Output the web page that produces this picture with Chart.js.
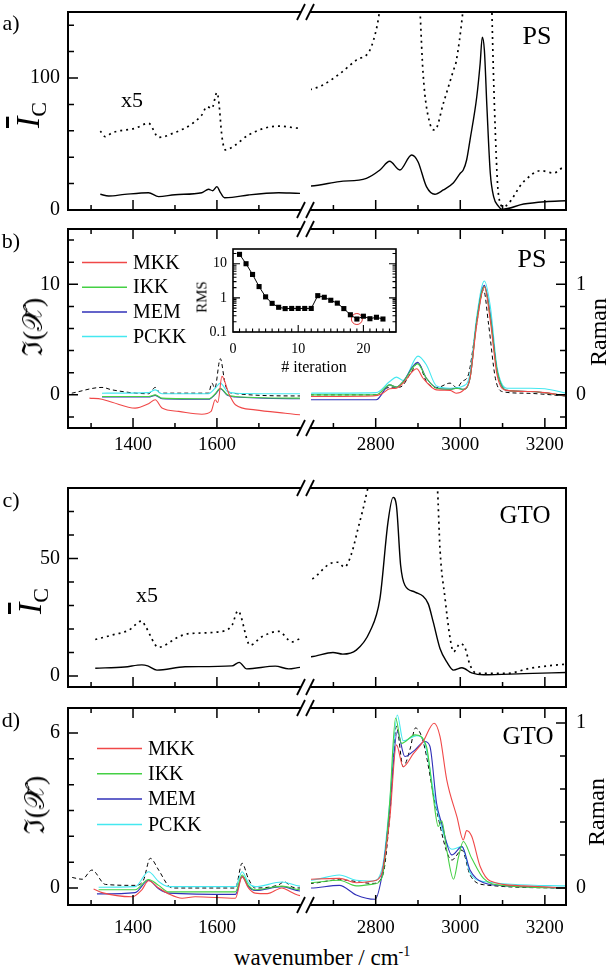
<!DOCTYPE html>
<html>
<head>
<meta charset="utf-8">
<script src="https://cdn.jsdelivr.net/npm/chart.js@4.4.1/dist/chart.umd.min.js"></script>
<style>
  body { margin: 0; background: #fff; }
  #wrap { position: relative; width: 606px; height: 971px; overflow: hidden; background: #fff; }
  #wrap canvas { position: absolute; }
  .lbl { position: absolute; font-family: "Liberation Serif", "DejaVu Serif", serif; color: #000;
         white-space: nowrap; transform: translate(-50%, -50%); line-height: 1; }
  .rot { transform: translate(-50%, -50%) rotate(-90deg); }
</style>
</head>
<body>
<div id="wrap"></div>
<script>
// axis ranges and tick labels (wavenumber, cm-1)
const xRangeLeft = [1245, 1798];
const xRangeRight = [2647, 3250];
const xMajorLeft = [1400, 1600];
const xMinorLeft = [1300, 1500, 1700];
const xMajorRight = [2800, 3000, 3200];
const xMinorRight = [2700, 2900, 3100];

// a) PS, mean Ic and the x5 copy
const psIc = [[1322,11.9],[1342,10.6],[1380,11.8],[1437,13.1],[1461,10.1],[1500,11.6],[1564,13.1],[1580,15.7],[1590,14.6],[1600,17.7],[1607,14],[1618,9.3],[1636,9.6],[1675,11.4],[1747,13.1],[1800,12.6],
  [2647,18.2],[2714,21.5],[2778,24],[2810,30.3],[2833,36.9],[2857,30.3],[2885,41.7],[2900,36.6],[2920,17.7],[2940,11.9],[2960,15.2],[2984,20.7],[3000,27.8],[3007,30.3],[3015,37.9],[3023,53],[3039,85.8],[3047,111],[3052,131],[3057,121],[3063,78],[3071,27.8],[3079,10],[3090,3],[3099,0.5],[3150,4.5],[3201,6.3],[3250,7]];
const psIcX5 = [[1322,59.8],[1334,55.5],[1350,58.5],[1405,61.9],[1437,65.7],[1461,55],[1485,56.8],[1564,72],[1576,78.3],[1588,77],[1600,88.9],[1604,83.3],[1612,55.5],[1620,45.5],[1643,49],[1675,56.8],[1747,63.6],[1800,61.9],
  [2647,91.4],[2675,94.7],[2714,103],[2754,113.6],[2786,121],[2803,139],[2810,152],[2833,185],[2857,165],[2885,208],[2900,183],[2905,150],[2912,103.5],[2928,65.7],[2940,60.6],[2960,80.8],[2984,106],[2990,112],[3006,150],[3020,200],[3050,600],[3075,148],[3083,58],[3090,12.6],[3102,2.5],[3150,21.5],[3190,29.8],[3221,28],[3244,32],[3250,31]];

// b) PS, Im(chi) by method, Raman (right axis)
const psMkk = [[1296,-0.3],[1326,-0.4],[1350,-0.67],[1405,-1.2],[1437,-0.8],[1453,-0.45],[1469,-1.2],[1509,-1.5],[1564,-1.75],[1586,-1.5],[1596,-0.45],[1602,-0.7],[1612,1.67],[1628,0.15],[1644,-0.9],[1691,-1.36],[1763,-1.66],[1800,-1.8],
  [2647,-0.15],[2794,-0.1],[2815,0.1],[2833,0.55],[2849,0.6],[2865,1.06],[2897,2.36],[2912,1.5],[2944,0.45],[2976,0.4],[2990,0.15],[3007,0.4],[3023,1.5],[3039,6.4],[3057,9.75],[3071,6.7],[3087,1.8],[3110,0.4],[3166,0.3],[3200,0.2],[3250,-0.1]];
const psIkk = [[1326,-0.15],[1437,-0.15],[1453,0],[1469,-0.3],[1580,-0.36],[1596,0.1],[1608,0.6],[1625,0],[1644,-0.15],[1800,-0.3],
  [2647,0],[2801,0],[2833,0.9],[2849,0.7],[2865,1.2],[2899,2.8],[2920,1.5],[2944,0.6],[2976,0.5],[2992,0.6],[3007,0.5],[3023,1.5],[3039,6.7],[3057,9.8],[3071,7],[3087,2.2],[3110,0.4],[3166,0.3],[3250,-0.1]];
const psMem = [[1326,-0.2],[1437,-0.2],[1453,-0.05],[1469,-0.35],[1580,-0.4],[1596,0.05],[1608,0.55],[1625,-0.05],[1644,-0.2],[1800,-0.35],
  [2647,-0.45],[2801,-0.45],[2833,0.9],[2849,0.7],[2865,1.2],[2899,2.94],[2920,1.5],[2944,0.64],[2976,0.5],[2992,0.6],[3007,0.5],[3023,1.5],[3039,6.7],[3057,9.9],[3071,7.2],[3087,2.2],[3110,0.4],[3166,0.3],[3250,-0.1]];
const psPckk = [[1326,0.15],[1437,0.2],[1453,0.45],[1469,0.1],[1580,0.1],[1596,0.6],[1608,1.06],[1625,0.3],[1644,0.15],[1800,0.1],
  [2647,0.15],[2801,0.2],[2833,1.2],[2849,1.6],[2865,1.3],[2900,3.5],[2920,2.7],[2944,0.8],[2976,0.6],[3007,0.8],[3023,1.9],[3039,7.1],[3057,10.3],[3071,8.0],[3087,2.5],[3110,0.6],[3166,0.6],[3200,0.55],[3250,0.15]];
const psRaman = [[1254,0.015],[1326,0.067],[1350,0.045],[1437,0.01],[1453,0.067],[1465,0.015],[1580,0.015],[1588,0.106],[1595,0.06],[1608,0.327],[1620,0.09],[1636,0.015],[1800,-0.01],
  [2647,0],[2801,0],[2825,0.06],[2841,0.07],[2857,0.07],[2885,0.21],[2900,0.29],[2920,0.12],[2944,0.064],[2976,0.106],[2992,0.064],[3004,0.12],[3019,0.18],[3035,0.545],[3055,0.95],[3067,0.636],[3083,0.15],[3099,0.03],[3150,0.015],[3250,-0.01]];

// c) GTO, mean Ic and the x5 copy
const gtoIc = [[1310,3.3],[1380,3.8],[1421,4.7],[1435,4.3],[1457,2.5],[1524,3.9],[1636,4.3],[1653,5.8],[1671,3],[1739,4.2],[1771,3],[1800,3.7],
  [2647,8.2],[2699,10],[2722,9.3],[2754,11],[2786,18.8],[2810,32.9],[2829,65.4],[2841,76],[2849,72.5],[2859,47],[2869,38.6],[2893,35.7],[2924,30.8],[2936,23],[2952,11.7],[2968,6],[2984,2.5],[3004,3.5],[3027,1.3],[3055,0.5],[3150,1.0],[3250,1.5]];
const gtoIcX5 = [[1310,15.5],[1350,17.4],[1390,19.5],[1421,23.4],[1430,21],[1461,12.2],[1509,16.7],[1533,18],[1604,18.8],[1636,21.6],[1650,27.7],[1679,13.1],[1707,16.7],[1747,19],[1779,14.5],[1800,16],
  [2647,41],[2691,47.7],[2710,48.4],[2726,46.3],[2742,51.6],[2758,62.6],[2778,77.4],[2790,90],[2850,300],[2940,90],[2946,80],[2952,54],[2964,33],[2976,16],[2984,10.3],[3000,13.8],[3011,12],[3023,4.7],[3039,1.1],[3110,1.1],[3166,3.3],[3229,4.7],[3250,5]];

// d) GTO, Im(chi) by method, Raman (right axis)
const gtoMkk = [[1306,-0.04],[1326,-0.18],[1398,-0.34],[1421,-0.07],[1437,0.28],[1461,0],[1485,-0.23],[1517,-0.4],[1548,-0.34],[1644,-0.4],[1660,0.44],[1675,0],[1691,-0.2],[1720,-0.22],[1755,0],[1779,-0.18],[1800,-0.3],
  [2647,0.34],[2714,0.37],[2754,0.2],[2794,0.27],[2813,0.5],[2833,2.64],[2849,5.54],[2865,4.7],[2889,5.2],[2912,5.67],[2938,6.38],[2952,5.87],[2968,4.19],[2992,2.76],[3007,1.86],[3015,2.22],[3027,2.0],[3047,0.83],[3071,0.27],[3150,0.08],[3250,0]];
const gtoIkk = [[1318,-0.07],[1405,-0.07],[1437,0.33],[1461,0.1],[1485,-0.15],[1644,-0.15],[1660,0.5],[1675,0.1],[1691,-0.07],[1755,0.07],[1800,-0.07],
  [2647,0.2],[2714,0.3],[2754,0.08],[2794,0.15],[2815,0.4],[2833,3.28],[2847,6.58],[2861,5.6],[2893,5.93],[2920,5.48],[2936,3.54],[2948,2.38],[2956,2.6],[2968,1.47],[2984,0.34],[2996,1.21],[3007,1.8],[3027,1.15],[3055,0.37],[3099,0.1],[3250,0]];
const gtoMem = [[1314,-0.23],[1405,-0.18],[1437,0.3],[1461,-0.03],[1485,-0.2],[1644,-0.25],[1660,0.44],[1675,0.05],[1691,-0.1],[1755,0.05],[1800,-0.12],
  [2647,0],[2714,0.1],[2754,-0.27],[2798,-0.44],[2817,0.7],[2833,3.0],[2851,6.06],[2869,5.09],[2893,5.35],[2916,5.67],[2928,5.5],[2944,3.28],[2956,2.5],[2980,1.28],[3004,1.6],[3023,0.7],[3055,0.2],[3110,0.08],[3250,0]];
const gtoPckk = [[1318,0.03],[1405,0.05],[1437,0.63],[1461,0.25],[1485,0.05],[1644,0.05],[1660,0.63],[1675,0.2],[1691,0.05],[1755,0.23],[1800,0.07],
  [2647,0.3],[2714,0.5],[2754,0.3],[2794,0.27],[2817,0.9],[2833,3.3],[2851,6.7],[2865,5.7],[2897,5.9],[2916,5.6],[2944,3.1],[2980,1.5],[3004,1.6],[3023,0.6],[3055,0.25],[3250,0.08]];
const gtoRaman = [[1255,0.064],[1279,0.053],[1302,0.109],[1334,0.022],[1405,0.016],[1425,0.048],[1441,0.18],[1461,0.109],[1485,0.012],[1500,0],[1644,0],[1660,0.15],[1675,0.056],[1691,0],[1747,0.019],[1760,0.038],[1779,0.006],[1800,0],
  [2647,0.028],[2714,0.05],[2794,0.028],[2817,0.08],[2833,0.43],[2849,0.98],[2865,0.735],[2881,0.84],[2894,0.97],[2912,0.89],[2944,0.47],[2980,0.17],[3004,0.23],[3023,0.08],[3055,0.02],[3250,0]];

// inset: RMS vs iteration
const rmsIter = [1,2,3,4,5,6,7,8,9,10,11,12,13,14,15,16,17,18,19,20,21,22,23];
const rmsValues = [18.8,10,4.85,2.14,1.07,0.69,0.53,0.485,0.49,0.49,0.49,0.49,1.16,1.04,0.85,0.70,0.485,0.32,0.24,0.29,0.245,0.27,0.24];
const bestIter = 19;
const insetXTicks = [0, 10, 20];
const insetYTicks = [0.1, 1, 10];

const RED = '#f04848', GREEN = '#44d044', BLUE = '#3030b8', CYAN = '#44e8f0';
const SERIF = '"Liberation Serif", "DejaVu Serif", serif';
const wrap = document.getElementById('wrap');

function addCanvas(left, top, w, h) {
  const c = document.createElement('canvas');
  c.width = w; c.height = h;
  c.style.left = left + 'px'; c.style.top = top + 'px';
  c.style.width = w + 'px'; c.style.height = h + 'px';
  wrap.appendChild(c);
  return c;
}

function label(html, x, y, size, cls) {
  const d = document.createElement('div');
  d.className = 'lbl' + (cls ? ' ' + cls : '');
  d.style.left = x + 'px'; d.style.top = y + 'px'; d.style.fontSize = size + 'px';
  d.innerHTML = html;
  wrap.appendChild(d);
}

// fixed axis sizes, and no label overhang padding, so all plot areas line up
const fixW = w => s => { s.width = w; s.paddingTop = 0; s.paddingBottom = 0; };
const fixH = h => s => { s.height = h; s.paddingLeft = 0; s.paddingRight = 0; };

// frame, inward ticks, axis break marks and the legend (settings kept in a closure)
function makeFrame(cfg) {
  return {
    id: 'frame',
    afterDraw(chart) {
      const ctx = chart.ctx, a = chart.chartArea;
      const sx = chart.scales.x, sy = chart.scales.y, sy2 = chart.scales.y2;
      const seg = (x1, y1, x2, y2) => { ctx.moveTo(x1, y1); ctx.lineTo(x2, y2); };
      ctx.save();
      ctx.setLineDash([]);
      ctx.strokeStyle = '#000';
      ctx.lineWidth = 1.5;
      ctx.lineCap = 'butt';
      ctx.beginPath();
      cfg.xMajor.forEach(v => {
        const p = sx.getPixelForValue(v);
        seg(p, a.bottom, p, a.bottom - 10);
        if (cfg.tickTop) seg(p, a.top, p, a.top + 10);
      });
      cfg.xMinor.forEach(v => {
        const p = sx.getPixelForValue(v);
        seg(p, a.bottom, p, a.bottom - 5);
        if (cfg.tickTop) seg(p, a.top, p, a.top + 5);
      });
      if (cfg.side === 'left') {
        cfg.yMajor.forEach(v => { const p = sy.getPixelForValue(v); seg(a.left, p, a.left + 10, p); });
        cfg.yMinor.forEach(v => { const p = sy.getPixelForValue(v); seg(a.left, p, a.left + 6, p); });
      } else if (sy2 && cfg.y2Major) {
        cfg.y2Major.forEach(v => { const p = sy2.getPixelForValue(v); seg(a.right, p, a.right - 10, p); });
        cfg.y2Minor.forEach(v => { const p = sy2.getPixelForValue(v); seg(a.right, p, a.right - 6, p); });
      }
      ctx.stroke();

      ctx.lineWidth = 2;
      ctx.lineCap = 'square';
      ctx.beginPath();
      seg(a.left, a.top, a.right, a.top);
      seg(a.left, a.bottom, a.right, a.bottom);
      if (cfg.side === 'left') seg(a.left, a.top, a.left, a.bottom);
      else seg(a.right, a.top, a.right, a.bottom);
      ctx.stroke();

      if (cfg.side === 'left') {
        ctx.lineCap = 'butt';
        ctx.lineWidth = 1.8;
        ctx.beginPath();
        [a.top, a.bottom].forEach(y => {
          seg(a.right - 3, y + 8, a.right + 5, y - 8);
          seg(a.right + 6, y + 8, a.right + 14, y - 8);
        });
        ctx.stroke();
      }

      if (cfg.legend) {
        const L = cfg.legend;
        chart.data.datasets.filter(d => d.showInLegend).forEach((d, i) => {
          const y = L.y + i * L.dy;
          ctx.strokeStyle = d.borderColor;
          ctx.lineWidth = 1.5;
          ctx.beginPath(); seg(L.x, y, L.x + 45, y); ctx.stroke();
          ctx.fillStyle = '#000';
          ctx.font = '20px ' + SERIF;
          ctx.textBaseline = 'middle';
          ctx.fillText(d.label, L.x + 51, y + 1);
        });
      }
      ctx.restore();
    }
  };
}

function ds(arr, style, axis) {
  return Object.assign({
    data: arr.map(([x, y]) => ({ x, y })),
    yAxisID: axis || 'y',
    pointRadius: 0, fill: false,
    cubicInterpolationMode: 'monotone', tension: 0.4
  }, style);
}

const solid = { borderColor: '#000', borderWidth: 1.4 };
const dotted = { borderColor: '#000', borderWidth: 1.7, borderDash: [2, 4] };
const dashed = { borderColor: '#000', borderWidth: 1, borderDash: [4, 3] };
const method = (c, l) => ({ borderColor: c, borderWidth: 1.1, label: l, showInLegend: true });

const panels = [
  { top: 12, bottom: 210, y: [0, 150], yMajor: [0, 100], yMinor: [20, 40, 60, 80, 120, 140],
    tickTop: false, xLabels: false, B: 16,
    series: [ds(psIcX5, dotted), ds(psIc, solid)] },
  { top: 229, bottom: 428, y: [-3, 15], yMajor: [0, 10], yMinor: [-2, 2, 4, 6, 8, 12, 14],
    y2: [-0.3, 1.5], y2Major: [0, 1], y2Minor: [-0.2, 0.2, 0.4, 0.6, 0.8, 1.2, 1.4],
    tickTop: true, xLabels: true, xPad: 6, B: 30, legend: { x: 82, y: 262.5, dy: 24.7 },
    series: [ds(psMkk, method(RED, 'MKK')), ds(psIkk, method(GREEN, 'IKK')), ds(psMem, method(BLUE, 'MEM')),
             ds(psPckk, method(CYAN, 'PCKK')), ds(psRaman, dashed, 'y2')] },
  { top: 488, bottom: 687, y: [-4.7, 80], yMajor: [0, 50], yMinor: [10, 20, 30, 40, 60, 70],
    tickTop: false, xLabels: false, B: 16,
    series: [ds(gtoIcX5, dotted), ds(gtoIc, solid)] },
  { top: 708, bottom: 905, y: [-0.66, 6.97], yMajor: [0, 6], yMinor: [1, 2, 3, 4, 5],
    y2: [-0.103, 1.091], y2Major: [0, 1], y2Minor: [0.2, 0.4, 0.6, 0.8],
    tickTop: true, xLabels: true, xPad: 12, B: 36, legend: { x: 97, y: 748.5, dy: 25.3 },
    series: [ds(gtoMkk, method(RED, 'MKK')), ds(gtoIkk, method(GREEN, 'IKK')), ds(gtoMem, method(BLUE, 'MEM')),
             ds(gtoPckk, method(CYAN, 'PCKK')), ds(gtoRaman, dashed, 'y2')] }
];

const noGrid = { display: false, drawTicks: false };
panels.forEach(p => {
  const T = 14;
  ['left', 'right'].forEach(side => {
    const isL = side === 'left';
    const cvTop = p.top - T;
    const cv = addCanvas(isL ? 0 : 300, cvTop, isL ? 320 : 306, p.bottom - p.top + T + p.B);
    const scales = {
      x: { type: 'linear', min: (isL ? xRangeLeft : xRangeRight)[0], max: (isL ? xRangeLeft : xRangeRight)[1],
           afterFit: fixH(p.B),
           afterBuildTicks: s => { s.ticks = (isL ? xMajorLeft : xMajorRight).map(v => ({ value: v })); },
           grid: noGrid, border: { display: false },
           ticks: { display: p.xLabels, padding: p.xPad || 0, color: '#000', font: { family: SERIF, size: 19 },
                    maxRotation: 0, autoSkip: false, callback: v => String(v) } },
      y: { type: 'linear', min: p.y[0], max: p.y[1], display: isL, position: 'left',
           afterFit: fixW(isL ? 68 : 0),
           afterBuildTicks: s => { s.ticks = p.yMajor.map(v => ({ value: v })); },
           grid: noGrid, border: { display: false },
           ticks: { padding: 8, color: '#000', font: { family: SERIF, size: 20 }, callback: v => String(v) } }
    };
    if (p.y2) {
      scales.y2 = { type: 'linear', min: p.y2[0], max: p.y2[1], display: !isL, position: 'right',
        afterFit: fixW(isL ? 0 : 40),
        afterBuildTicks: s => { s.ticks = p.y2Major.map(v => ({ value: v })); },
        grid: noGrid, border: { display: false },
        ticks: { padding: 10, color: '#000', font: { family: SERIF, size: 20 }, callback: v => String(v) } };
    }
    const frame = makeFrame({
      side, tickTop: p.tickTop,
      xMajor: isL ? xMajorLeft : xMajorRight, xMinor: isL ? xMinorLeft : xMinorRight,
      yMajor: p.yMajor, yMinor: p.yMinor, y2Major: p.y2Major, y2Minor: p.y2Minor,
      legend: isL && p.legend ? { x: p.legend.x, y: p.legend.y - cvTop, dy: p.legend.dy } : null
    });
    new Chart(cv, {
      type: 'line',
      data: { datasets: p.series.map(d => Object.assign({}, d)) },
      options: {
        responsive: false, animation: false, events: [],
        layout: { padding: { top: T, bottom: 0, left: isL ? 0 : 11, right: isL ? 20 : (p.y2 ? 0 : 40) } },
        scales,
        plugins: { legend: { display: false }, tooltip: { enabled: false } }
      },
      plugins: [frame]
    });
  });
});

// inset
const insetPlugin = {
  id: 'insetFrame',
  beforeDatasetsDraw(chart) {
    const { ctx, chartArea: a } = chart;
    ctx.save(); ctx.fillStyle = '#fff';
    ctx.fillRect(a.left, a.top, a.right - a.left, a.bottom - a.top);
    ctx.restore();
  },
  afterDraw(chart) {
    const { ctx, chartArea: a, scales: { x, y } } = chart;
    const seg = (x1, y1, x2, y2) => { ctx.moveTo(x1, y1); ctx.lineTo(x2, y2); };
    ctx.save();
    ctx.setLineDash([]);
    ctx.strokeStyle = '#000';
    ctx.lineWidth = 1.1;
    ctx.beginPath();
    for (let i = 1; i < 25; i++) {
      const p = x.getPixelForValue(i);
      seg(p, a.bottom, p, a.bottom - (i % 10 === 0 ? 7 : 3.5));
    }
    [0.1, 1, 10].forEach(dec => {
      for (let k = 1; k < 10; k++) {
        const v = dec * k;
        if (v > y.max) continue;
        const p = y.getPixelForValue(v);
        const len = k === 1 ? 7 : 3.5;
        seg(a.left, p, a.left + len, p);
        seg(a.right, p, a.right - len, p);
      }
    });
    ctx.stroke();
    ctx.lineWidth = 1.6;
    ctx.strokeRect(a.left, a.top, a.right - a.left, a.bottom - a.top);
    ctx.restore();
  }
};

const inCv = addCanvas(190, 240, 215, 135);
new Chart(inCv, {
  type: 'line',
  data: {
    datasets: [
      { data: rmsIter.map((v, i) => ({ x: v, y: rmsValues[i] })), borderColor: '#000', borderWidth: 1,
        pointStyle: 'rect', pointRadius: 3.6, pointBackgroundColor: '#000', pointBorderWidth: 0, tension: 0 },
      { data: [{ x: bestIter, y: rmsValues[rmsIter.indexOf(bestIter)] }], showLine: false,
        pointStyle: 'circle', pointRadius: 5.5, pointBorderColor: '#e03838',
        pointBackgroundColor: 'rgba(0,0,0,0)', pointBorderWidth: 1 }
    ]
  },
  options: {
    responsive: false, animation: false, events: [],
    layout: { padding: { top: 9, right: 9, left: 0, bottom: 0 } },
    scales: {
      x: { type: 'linear', min: 0, max: 25,
           afterFit: fixH(43),
           afterBuildTicks: s => { s.ticks = insetXTicks.map(v => ({ value: v })); },
           grid: noGrid, border: { display: false },
           ticks: { padding: 9, color: '#000', font: { family: SERIF, size: 14 }, maxRotation: 0, callback: v => String(v) } },
      y: { type: 'logarithmic', min: 0.1, max: 27,
           afterFit: fixW(43),
           afterBuildTicks: s => { s.ticks = insetYTicks.map(v => ({ value: v })); },
           grid: noGrid, border: { display: false },
           ticks: { padding: 6, color: '#000', font: { family: SERIF, size: 14 }, callback: v => String(v) } }
    },
    plugins: { legend: { display: false }, tooltip: { enabled: false } }
  },
  plugins: [insetPlugin]
});

// text
label('a)', 11, 23, 22); label('b)', 11, 241, 22); label('c)', 11, 500, 22); label('d)', 11, 720, 22);
label('PS', 537, 36, 26); label('PS', 532, 259, 26);
label('GTO', 525, 514, 25); label('GTO', 528, 735, 25);
label('x5', 132, 100, 22); label('x5', 147, 595, 22);
const icTitle = '<i style="text-decoration:overline">I</i><span style="font-size:22px;position:relative;top:7px">C</span>';
label(icTitle, 28, 115, 34, 'rot');
label(icTitle, 30, 601, 34, 'rot');
label('ℑ(𝒳̃)', 33, 327, 28, 'rot');
label('ℑ(𝒳̃)', 35, 805, 28, 'rot');
label('Raman', 598, 332, 24, 'rot');
label('Raman', 596, 812, 24, 'rot');
label('wavenumber / cm<sup style="font-size:14px">-1</sup>', 322, 957, 23);
label('RMS', 202, 297, 15, 'rot');
label('# iteration', 314, 367, 16);
</script>
</body>
</html>
